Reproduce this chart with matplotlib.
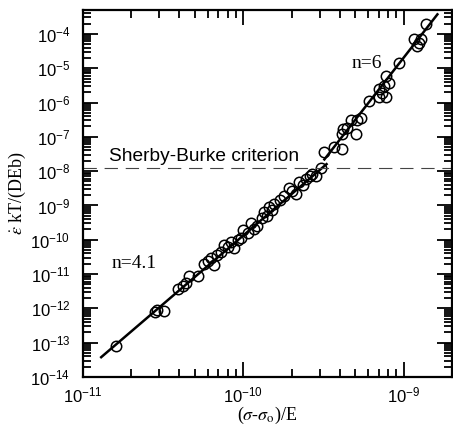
import numpy as np
import matplotlib
matplotlib.use('Agg')
import matplotlib.pyplot as plt
from matplotlib.ticker import LogLocator, NullFormatter

plt.rcParams['font.family'] = ['Liberation Sans', 'DejaVu Sans']
plt.rcParams['mathtext.fontset'] = 'stix'

# measured points, (sigma - sigma0)/E vs normalised creep rate
stress = [1.6e-11, 2.9e-11, 3.2e-11, 2.8e-11, 3.9e-11, 4.4e-11, 4.2e-11, 5.2e-11,
          4.6e-11, 5.7e-11, 6.3e-11, 6.6e-11, 7.3e-11, 7.6e-11, 8.4e-11, 8.8e-11,
          9.7e-11, 1.0e-10, 1.12e-10, 1.17e-10, 1.3e-10, 1.35e-10, 1.45e-10, 1.56e-10,
          1.51e-10, 1.93e-10, 2.13e-10, 2.23e-10, 2.46e-10, 2.69e-10, 2.84e-10, 3.05e-10,
          6.0e-11, 6.9e-11, 8.0e-11, 9.2e-11, 1.07e-10, 1.22e-10, 1.4e-10, 1.7e-10,
          1.8e-10, 2.0e-10, 2.35e-10, 2.6e-10,
          3.18e-10, 3.67e-10, 4.12e-10, 4.12e-10, 4.43e-10, 5.04e-10, 5.1e-10, 4.7e-10,
          5.4e-10, 4.2e-10, 6.07e-10, 7.0e-10, 7.0e-10, 7.3e-10, 7.8e-10, 8.07e-10,
          7.7e-10, 9.3e-10, 1.15e-9, 1.21e-9, 1.28e-9, 1.37e-9, 7.5e-10, 1.24e-9]
rate = [7.9e-14, 8.9e-13, 8.3e-13, 7.8e-13, 3.6e-12, 5.4e-12, 4.5e-12, 8.7e-12,
        8.7e-12, 2.0e-11, 2.9e-11, 1.8e-11, 4.3e-11, 6.9e-11, 8.4e-11, 5.6e-11,
        1.1e-10, 1.9e-10, 3.0e-10, 2.1e-10, 4.2e-10, 6.3e-10, 8.8e-10, 1.1e-9,
        7.2e-10, 3.3e-9, 2.2e-9, 4.7e-9, 6.1e-9, 8.5e-9, 7.4e-9, 1.2e-8,
        2.4e-11, 3.6e-11, 6.0e-11, 1.0e-10, 1.6e-10, 2.6e-10, 5.0e-10, 1.4e-9,
        1.9e-9, 2.7e-9, 4.0e-9, 7.0e-9,
        3.5e-8, 4.9e-8, 4.5e-8, 1.24e-7, 1.85e-7, 1.24e-7, 3.0e-7, 3.0e-7,
        3.6e-7, 1.7e-7, 1.1e-6, 2.5e-6, 1.4e-6, 1.9e-6, 6.0e-6, 3.8e-6,
        1.4e-6, 1.4e-5, 7.2e-5, 4.5e-5, 7.2e-5, 1.95e-4, 3.0e-6, 5.3e-5]

# fitted power laws (end points)
fit41_x = [1.3e-11, 3.3e-10]
fit41_y = [3.8e-14, 1.6e-8]
fit6_x = [3.2e-10, 1.62e-9]
fit6_y = [2.2e-8, 3.7e-4]

sherby_burke = 1.2e-8

fig = plt.figure(figsize=(4.53, 4.29), dpi=100)
ax = fig.add_axes([0.183, 0.121, 0.815, 0.856])

ax.plot(stress, rate, 'o', mfc='none', mec='black', ms=7.5, mew=1.1)
ax.plot(fit41_x, fit41_y, color='black', lw=1.8)
ax.plot(fit6_x, fit6_y, color='black', lw=1.8)
ax.axhline(sherby_burke, color='#444444', lw=0.8, dashes=(12, 7))

ax.set_xscale('log')
ax.set_yscale('log')
ax.set_xlim(1e-11, 2e-9)
ax.set_ylim(1e-14, 5e-4)

ax.xaxis.set_major_locator(LogLocator(base=10, numticks=20))
ax.yaxis.set_major_locator(LogLocator(base=10, numticks=20))
ax.xaxis.set_minor_locator(LogLocator(base=10, subs=np.arange(2, 10), numticks=20))
ax.yaxis.set_minor_locator(LogLocator(base=10, subs=np.arange(2, 10), numticks=20))
ax.xaxis.set_minor_formatter(NullFormatter())
ax.yaxis.set_minor_formatter(NullFormatter())

ax.tick_params(which='both', direction='in', top=True, right=True, width=1.3)
ax.tick_params(which='major', length=11, labelsize=12)
ax.tick_params(axis='y', which='major', pad=9)
ax.tick_params(axis='x', which='major', pad=6)
ax.tick_params(which='minor', length=5.5)
for s in ax.spines.values():
    s.set_linewidth(1.6)

ax.set_xlabel(r'($\sigma$-$\sigma_{\rm o}$)/E', family='Liberation Serif', fontsize=13, labelpad=0)
ax.set_ylabel(r'$\dot{\varepsilon}$ kT/(DEb)', family='Liberation Serif', fontsize=13, labelpad=2)

ax.text(1.45e-11, 2.0e-8, 'Sherby-Burke criterion', fontsize=13.8)
ax.text(5.9e-10, 1.4e-5, 'n=6', family='Liberation Serif', fontsize=14, ha='center', va='center')
ax.text(2.1e-11, 2.0e-11, 'n=4.1', family='Liberation Serif', fontsize=14, ha='center', va='center')

plt.savefig('out.png', dpi=100)
